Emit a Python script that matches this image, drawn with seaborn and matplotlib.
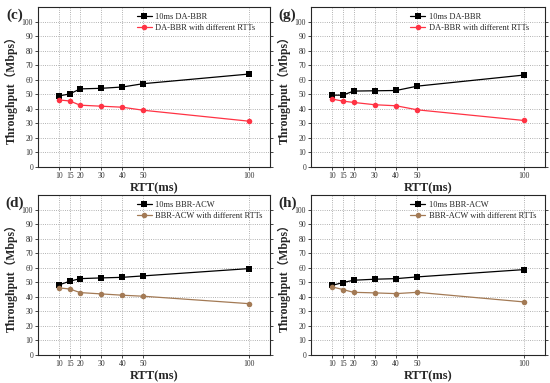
import numpy as np
import pandas as pd
import seaborn as sns
import matplotlib.pyplot as plt

rtt = [10, 15, 20, 30, 40, 50, 100]

c_fixed = [48.9, 50.2, 53.7, 54.1, 55.0, 57.3, 63.9]
c_diff = [46.1, 45.4, 42.5, 41.8, 41.1, 39.0, 31.5]
g_fixed = [49.4, 49.4, 52.2, 52.4, 52.6, 55.6, 63.2]
g_diff = [46.7, 45.3, 44.4, 42.8, 42.1, 39.3, 32.0]
d_fixed = [48.2, 50.7, 52.5, 53.0, 53.4, 54.4, 59.4]
d_diff = [46.1, 45.4, 42.9, 42.0, 41.1, 40.4, 35.3]
h_fixed = [47.9, 49.8, 51.4, 52.1, 52.5, 53.7, 58.7]
h_diff = [46.8, 45.0, 43.1, 42.7, 42.2, 43.1, 36.5]

panels = [
    ('(c)', '10ms DA-BBR', 'DA-BBR with different RTTs', c_fixed, c_diff, '#ff3344'),
    ('(g)', '10ms DA-BBR', 'DA-BBR with different RTTs', g_fixed, g_diff, '#ff3344'),
    ('(d)', '10ms BBR-ACW', 'BBR-ACW with different RTTs', d_fixed, d_diff, '#a37a55'),
    ('(h)', '10ms BBR-ACW', 'BBR-ACW with different RTTs', h_fixed, h_diff, '#a37a55'),
]

sns.set_style('ticks')
plt.rcParams['font.family'] = ['Liberation Serif', 'DejaVu Serif']

fig = plt.figure(figsize=(5.5, 3.83), dpi=100)
W, H = 550, 383
boxes = [(38, 7, 270, 167), (311, 7, 545, 167), (38, 195, 270, 355), (311, 195, 545, 355)]

for (tag, lab1, lab2, fixed, diff, col), (l, t, r, b) in zip(panels, boxes):
    ax = fig.add_axes([l / W, 1 - b / H, (r - l) / W, (b - t) / H])
    df = pd.DataFrame({'rtt': rtt * 2, 'thr': fixed + diff,
                       'series': [lab1] * 7 + [lab2] * 7})
    sns.lineplot(data=df, x='rtt', y='thr', hue='series', style='series',
                 palette=['black', col], markers=['s', 'o'], dashes=False,
                 markersize=4, markeredgewidth=0, linewidth=0.9, ax=ax)
    ax.set_xlim(0, 110)
    ax.set_ylim(0, 110)
    ax.set_xticks(rtt)
    ax.set_yticks(np.arange(0, 101, 10))
    ax.tick_params(labelsize=5.5, length=2, width=0.6, pad=1.5, right=True,
                   labelcolor='#333333')
    ax.grid(True, linestyle=':', color='#999999', linewidth=0.6)
    for s in ax.spines.values():
        s.set_linewidth(0.8)
    ax.set_xlabel('RTT(ms)', fontsize=9, fontweight='bold', labelpad=2)
    ax.set_ylabel('Throughput\uff08Mbps\uff09', fontsize=8.5, fontweight='bold',
                  labelpad=3, family=['Liberation Serif', 'Noto Sans CJK SC'])
    ax.legend(loc='upper left', bbox_to_anchor=(0.4, 1.0), frameon=False,
              fontsize=6, handlelength=1.8, handletextpad=0.4,
              labelspacing=0.4, borderaxespad=0.3, title=None)
    ax.text(-0.1, 0.95, tag, transform=ax.transAxes, fontsize=11,
            fontweight='bold', ha='center', va='center')

fig.savefig('out.png', dpi=100)
